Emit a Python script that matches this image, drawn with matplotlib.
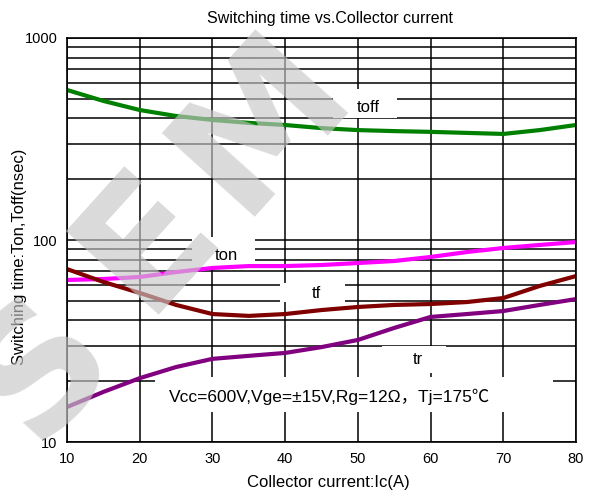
import matplotlib
matplotlib.use("Agg")
import matplotlib.pyplot as plt
from matplotlib.patches import Rectangle
from matplotlib.ticker import FixedLocator, NullFormatter

plt.rcParams['font.family'] = ['Liberation Sans', 'Noto Sans CJK SC', 'DejaVu Sans']

# ---- data ----
ic = [10, 15, 20, 25, 30, 35, 40, 45, 50, 55, 60, 65, 70, 75, 80]
toff = [553, 488, 440, 411, 393, 380, 371, 358, 350, 346, 343, 339, 335, 350, 371]
ton = [63.4, 64.1, 65.6, 69.4, 72.7, 74.3, 74.3, 75.2, 76.9, 78.7, 82.4, 87.2, 91.3, 94.5, 97.7]
tf = [71.8, 62.0, 54.7, 47.7, 43.0, 42.1, 43.0, 45.0, 46.6, 47.7, 48.2, 49.3, 51.6, 59.2, 66.3]
tr = [14.9, 17.7, 20.7, 23.5, 25.8, 26.7, 27.6, 29.5, 32.0, 36.7, 41.6, 43.0, 44.5, 47.7, 51.0]

xticks = [10, 20, 30, 40, 50, 60, 70, 80]
yticks = [10, 100, 1000]
ytick_labels = ['10', '100', '1000']

title = "Switching time vs.Collector current"
xlabel = "Collector current:Ic(A)"
ylabel = "Switching time:Ton,Toff(nsec)"
cond = "Vcc=600V,Vge=±15V,Rg=12Ω，Tj=175℃"
watermark = "SEM"

W, H = 591, 496
fig = plt.figure(figsize=(W / 100, H / 100), dpi=100)
L, R, T, B = 67, 576, 38, 442
ax = fig.add_axes([L / W, 1 - B / H, (R - L) / W, (B - T) / H])

ax.set_yscale('log')
ax.set_xlim(10, 80)
ax.set_ylim(10, 1000)
ax.set_xticks(xticks)
ax.set_xticklabels([str(v) for v in xticks])
ax.set_yticks(yticks)
ax.set_yticklabels(ytick_labels)
minors = [m * d for d in (10, 100) for m in range(2, 10)]
ax.yaxis.set_minor_locator(FixedLocator(minors))
ax.yaxis.set_minor_formatter(NullFormatter())
ax.tick_params(which='both', length=0, labelsize=10.5, pad=7)
ax.grid(True, which='both', axis='y', color='black', linewidth=1.1, zorder=1)
ax.grid(True, which='major', axis='x', color='black', linewidth=1.1, zorder=1)
ax.set_axisbelow(True)
for s in ax.spines.values():
    s.set_linewidth(1.2)
    s.set_zorder(6)

# white label boxes (axes fraction)
def box(x0, x1, y0, y1):
    ax.add_patch(Rectangle(((x0 - L) / (R - L), (B - y1) / (B - T)),
                           (x1 - x0) / (R - L), (y1 - y0) / (B - T),
                           transform=ax.transAxes, facecolor='white',
                           edgecolor='none', zorder=2))

box(333, 397, 89, 118)
box(192, 255, 237, 268)
box(280, 345, 283, 302)
box(382, 446, 346, 373)
box(155, 553, 377, 412)

lw = 3.0
ax.plot(ic, toff, color='#008000', lw=lw, zorder=3, solid_capstyle='butt')
ax.plot(ic, ton, color='#ff00ff', lw=lw, zorder=3, solid_capstyle='butt')
ax.plot(ic, tf, color='#800000', lw=lw, zorder=3, solid_capstyle='butt')
ax.plot(ic, tr, color='#800080', lw=lw, zorder=3, solid_capstyle='butt')

def ftxt(px, py, s, **kw):
    fig.text(px / W, 1 - py / H, s, ha='center', va='center', **kw)

ftxt(368, 107, 'toff', fontsize=12, zorder=5)
ftxt(226, 256, 'ton', fontsize=12, zorder=5)
ftxt(316, 293, 'tf', fontsize=12, zorder=5)
ftxt(418, 360, 'tr', fontsize=12, zorder=5)
ftxt(330, 397, cond, fontsize=12.5, zorder=5)

ftxt(330, 18, title, fontsize=11.5)
ftxt(328, 483, xlabel, fontsize=12)
ftxt(20, 257, ylabel, fontsize=12, rotation=90)

# watermark letters, spaced along a diagonal
wm_pos = [(42, 368), (148, 240), (262, 122)]
for ch, (px, py) in zip(watermark, wm_pos):
    fig.text(px / W, 1 - py / H, ch, ha='center', va='center',
             rotation=48, rotation_mode='anchor', fontsize=124,
             fontweight='bold', family='DejaVu Sans',
             color=(0.78, 0.78, 0.78), alpha=0.65, zorder=10)

fig.savefig('out.png', dpi=100)
